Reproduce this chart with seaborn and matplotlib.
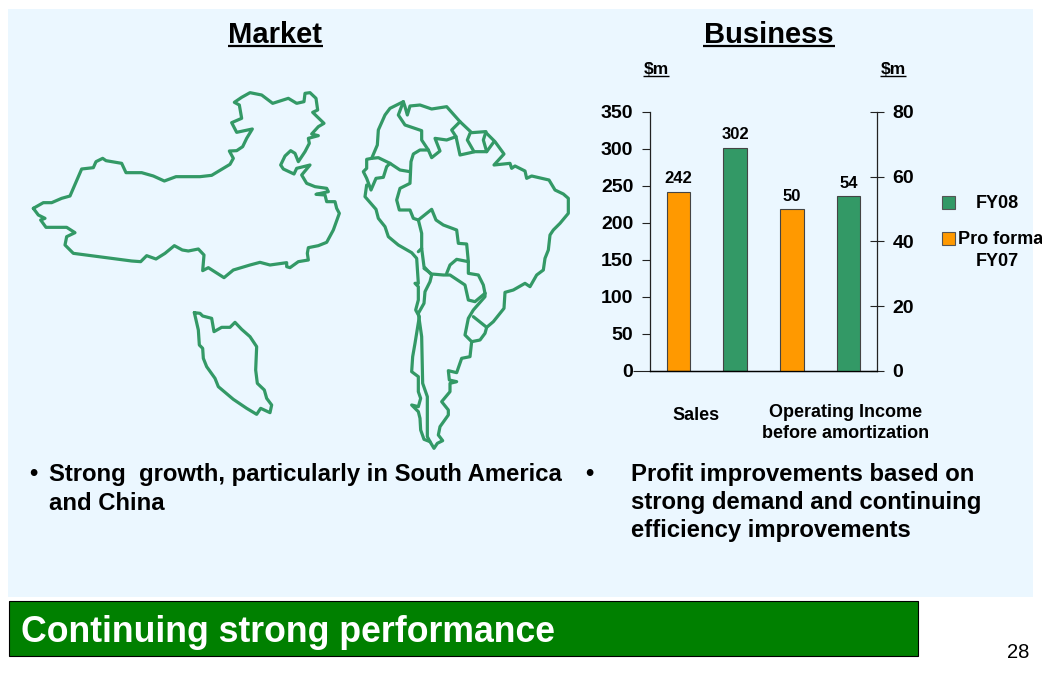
import numpy as np
import pandas as pd
import matplotlib.pyplot as plt
from matplotlib.patches import Rectangle
import seaborn as sns

# =========================
# dados do gráfico
# =========================
categorias = ["Sales FY07", "Sales FY08", "OI FY07", "OI FY08"]
periodos = ["Pro forma FY07", "FY08", "Pro forma FY07", "FY08"]
valores = [242, 302, 50, 54]
eixo = ["sales", "sales", "oi", "oi"]

ticks_esq = [0, 50, 100, 150, 200, 250, 300, 350]
ticks_dir = [0, 20, 40, 60, 80]

VERDE = "#339966"
LARANJA = "#FF9900"
FUNDO = "#EBF7FF"
paleta = {"Pro forma FY07": LARANJA, "FY08": VERDE}

# =========================
# contornos do mapa (px da imagem ampliada 3x)
# =========================
china = [(40,385),(70,368),(95,368),(125,355),(150,348),(185,267),(220,263),(228,245),(248,235),(258,242),
    (305,250),(318,278),(365,278),(400,288),(433,303),(468,290),(540,290),(575,286),(630,253),(640,235),
    (628,213),(650,212),(668,200),(680,175),(697,147),(650,157),(635,128),(665,115),(658,75),(643,67),
    (665,52),(690,38),(725,45),(758,70),(805,55),(830,70),(852,65),(855,40),(870,38),(888,55),(893,90),
    (878,97),(912,130),(895,140),(875,162),(895,167),(865,175),(868,190),(855,215),(835,245),(825,220),
    (812,212),(795,228),(782,255),(790,267),(822,282),(830,265),(870,255),(845,285),(860,310),(885,320),
    (920,325),(925,335),(888,343),(915,345),(920,365),(945,365),(950,385),(958,400),(940,450),(920,487),
    (895,497),(865,503),(862,520),(865,540),(835,545),(810,563),(800,560),(800,548),(750,555),(720,547),
    (690,555),(640,570),(612,593),(565,563),(548,572),(552,525),(535,507),(505,513),(487,510),(463,497),
    (435,520),(408,537),(380,527),(362,545),(335,543),(160,520),(135,495),(140,470),(165,458),(140,442),
    (78,442),(62,420),(75,415),(55,405),(40,385)]
malasia = [(523,698),(540,700),(548,708),(575,715),(582,755),(605,742),(630,742),(645,727),(665,748),
    (690,770),(710,800),(707,870),(712,910),(733,930),(740,955),(755,975),(750,998),(722,985),(710,1003),
    (680,985),(640,958),(595,920),(585,895),(560,860),(550,835),(548,805),(538,795),(535,750),(523,698)]

america_sul = [
    # costa
    [(160,35),(120,55),(105,75),(85,120),(82,165),(65,205),(50,208),(50,235),(40,245),(50,265),(63,300),
     (78,265),(100,262),(110,230),(120,220)],
    [(50,285),(45,320),(78,358),(85,385),(105,410),(115,440),(145,465),(185,488),(200,505),(205,580),
     (195,580),(205,590),(205,630),(197,660),(208,680),(195,760),(188,800),(185,845),(205,860),(205,905),
     (212,925),(205,950),(185,945),(205,965),(210,985),(212,1020),(222,1048),(240,1055),(252,1075),
     (262,1060),(278,1052),(265,1035),(270,1010),(295,975),(295,960),(275,935),(300,905),(300,880),
     (320,875),(298,870),(295,842),(320,848),(335,805),(360,800),(365,755),(345,735),(355,685),(370,660),
     (405,620),(405,610)],
    [(365,755),(390,750),(405,730),(410,712),(430,695),(462,655),(465,607),(490,600),(525,580),(540,590),
     (560,555),(580,540),(585,505),(595,480),(600,435),(610,420),(630,400),(655,370),(655,325),(640,312),
     (615,300),(597,270),(545,258),(530,265),(525,243),(495,228),(485,235),(480,220),(432,225),(462,192),
     (435,155),(405,125),(365,128),(330,95),(290,50),(245,57),(210,45),(180,48),(172,75),(165,50),(160,35),
     (145,75),(165,105),(215,122),(215,150),(235,180),(245,203),(270,183),(255,145),(290,150),(318,140)],
    # fronteiras
    [(235,180),(210,180),(190,192),(183,215),(180,280),(150,295),(140,330),(148,360),(180,360),(190,385),
     (205,390),(245,358),(258,390),(280,405),(320,420),(325,460),(350,462),(355,515),(320,508),(300,525),
     (290,550)],
    [(205,390),(215,430),(215,475),(205,485)],
    [(215,475),(222,530),(245,555),(240,575),(225,605),(222,640),(205,670),(215,740),(218,880),(232,920),
     (232,1040),(240,1055)],
    [(222,535),(245,552),(280,555),(300,555),(345,585),(355,630),(375,635),(405,610)],
    [(355,515),(355,550),(385,555),(400,585),(405,610)],
    [(370,680),(410,712)],
    [(65,205),(85,203),(120,220),(150,240),(180,245)],
    [(330,95),(305,120),(318,140),(330,195),(375,185),(410,185),(432,155)],
    [(360,130),(352,150),(372,185)],
    [(408,125),(400,150),(410,185)],
]

# =========================
# figura e camada de fundo (coordenadas em pixels)
# =========================
sns.set_theme(style="white")
plt.rcParams["font.family"] = ["Liberation Sans", "DejaVu Sans"]

fig = plt.figure(figsize=(10.42, 6.75), dpi=100, facecolor="white")
bg = fig.add_axes([0, 0, 1, 1], zorder=0)
bg.set_xlim(0, 1042)
bg.set_ylim(675, 0)
bg.axis("off")

bg.add_patch(Rectangle((8, 9), 1025, 588, facecolor=FUNDO, edgecolor="none"))
bg.add_patch(Rectangle((9, 601), 909, 55, facecolor="#008000", edgecolor="black", linewidth=0.8))


def desenha_contorno(pontos, x0, y0):
    xs = [x0 + p[0] / 3 for p in pontos]
    ys = [y0 + p[1] / 3 for p in pontos]
    bg.plot(xs, ys, color=VERDE, linewidth=2.3, solid_joinstyle="round", solid_capstyle="round")


desenha_contorno(china, 20, 80)
desenha_contorno(malasia, 20, 80)
for trecho in america_sul:
    desenha_contorno(trecho, 350, 90)


def texto(x, y, s, size=16, weight="bold", ha="left", color="black", linespacing=1.2):
    return bg.text(x, y, s, fontsize=size, fontweight=weight, ha=ha, va="center",
                   color=color, linespacing=linespacing)


def sublinhado(x1, x2, y, lw):
    bg.plot([x1, x2], [y, y], color="black", linewidth=lw, solid_capstyle="butt")


texto(275.5, 35, "Market", size=21, ha="center")
sublinhado(228, 323, 46, 1.6)
texto(769, 35, "Business", size=21, ha="center")
sublinhado(703, 835, 46, 1.6)

texto(656, 69, "$m", size=12.5, ha="center")
sublinhado(643, 669, 76, 1)
texto(893, 69, "$m", size=12.5, ha="center")
sublinhado(880, 906, 76, 1)

texto(29, 474, "•", size=17)
texto(49, 474, "Strong  growth, particularly in South America", size=17.2)
texto(49, 503, "and China", size=17.2)
texto(585, 474, "•", size=17)
texto(631, 474, "Profit improvements based on", size=17.2)
texto(631, 503, "strong demand and continuing", size=17.2)
texto(631, 531, "efficiency improvements", size=17.2)

texto(21, 633, "Continuing strong performance", size=25.7, color="white")
texto(1018, 653, "28", size=14.5, weight="normal", ha="center")

texto(696, 416, "Sales", size=13, ha="center")
texto(845.5, 412.5, "Operating Income", size=13, ha="center")
texto(845.5, 433.5, "before amortization", size=13, ha="center")

# legenda
bg.add_patch(Rectangle((942, 196), 13, 13, facecolor=VERDE, edgecolor="#555555", linewidth=0.8))
bg.add_patch(Rectangle((942, 232), 13, 13, facecolor=LARANJA, edgecolor="#555555", linewidth=0.8))
texto(997, 204, "FY08", size=13, ha="center")
texto(958, 239, "Pro forma", size=13)
texto(997, 261, "FY07", size=13, ha="center")

# =========================
# gráfico de barras com dois eixos
# =========================
df = pd.DataFrame({"categoria": categorias, "periodo": periodos, "valor": valores, "eixo": eixo})

ax = fig.add_axes([650 / 1042, 1 - 371 / 675, 227 / 1042, 259 / 675], zorder=2)
ax.patch.set_alpha(0)
ax2 = ax.twinx()
ax2.patch.set_alpha(0)

for eixo_atual, nome in [(ax, "sales"), (ax2, "oi")]:
    sns.barplot(
        data=df[df["eixo"] == nome],
        x="categoria",
        y="valor",
        hue="periodo",
        order=categorias,
        palette=paleta,
        saturation=1,
        dodge=False,
        width=0.41,
        edgecolor="#444444",
        linewidth=0.8,
        legend=False,
        ax=eixo_atual,
    )
    for barras in eixo_atual.containers:
        eixo_atual.bar_label(barras, fontsize=12, fontweight="bold", color="black", padding=4)
    eixo_atual.set_xlabel("")
    eixo_atual.set_ylabel("")
    eixo_atual.set_xlim(-0.5, 3.5)

ax.set_ylim(0, 350)
ax.set_yticks(ticks_esq)
ax2.set_ylim(0, 80)
ax2.set_yticks(ticks_dir)
ax2.yaxis.tick_right()
ax.set_xticks([])
ax2.set_xticks([])

for eixo_atual in [ax, ax2]:
    for lado in eixo_atual.spines.values():
        lado.set_visible(False)
    eixo_atual.spines["bottom"].set_visible(True)
    eixo_atual.spines["bottom"].set_color("black")
    eixo_atual.spines["bottom"].set_linewidth(0.9)

ax.spines["left"].set_visible(True)
ax.spines["left"].set_color("#222222")
ax.spines["left"].set_linewidth(0.9)
ax2.spines["right"].set_visible(True)
ax2.spines["right"].set_color("#222222")
ax2.spines["right"].set_linewidth(0.9)

ax.tick_params(axis="y", left=True, direction="out", length=6, width=0.8, color="#222222",
               labelsize=14, labelcolor="black", pad=6)
ax2.tick_params(axis="y", right=True, direction="inout", length=10, width=0.8, color="#222222",
                labelsize=14, labelcolor="black", pad=6)
for rotulo in ax.get_yticklabels() + ax2.get_yticklabels():
    rotulo.set_fontweight("bold")

# a linha de base passa um pouco do eixo esquerdo
ax.yaxis.get_major_ticks()[0].tick1line.set_markersize(12)

fig.savefig("out.png", dpi=100)
